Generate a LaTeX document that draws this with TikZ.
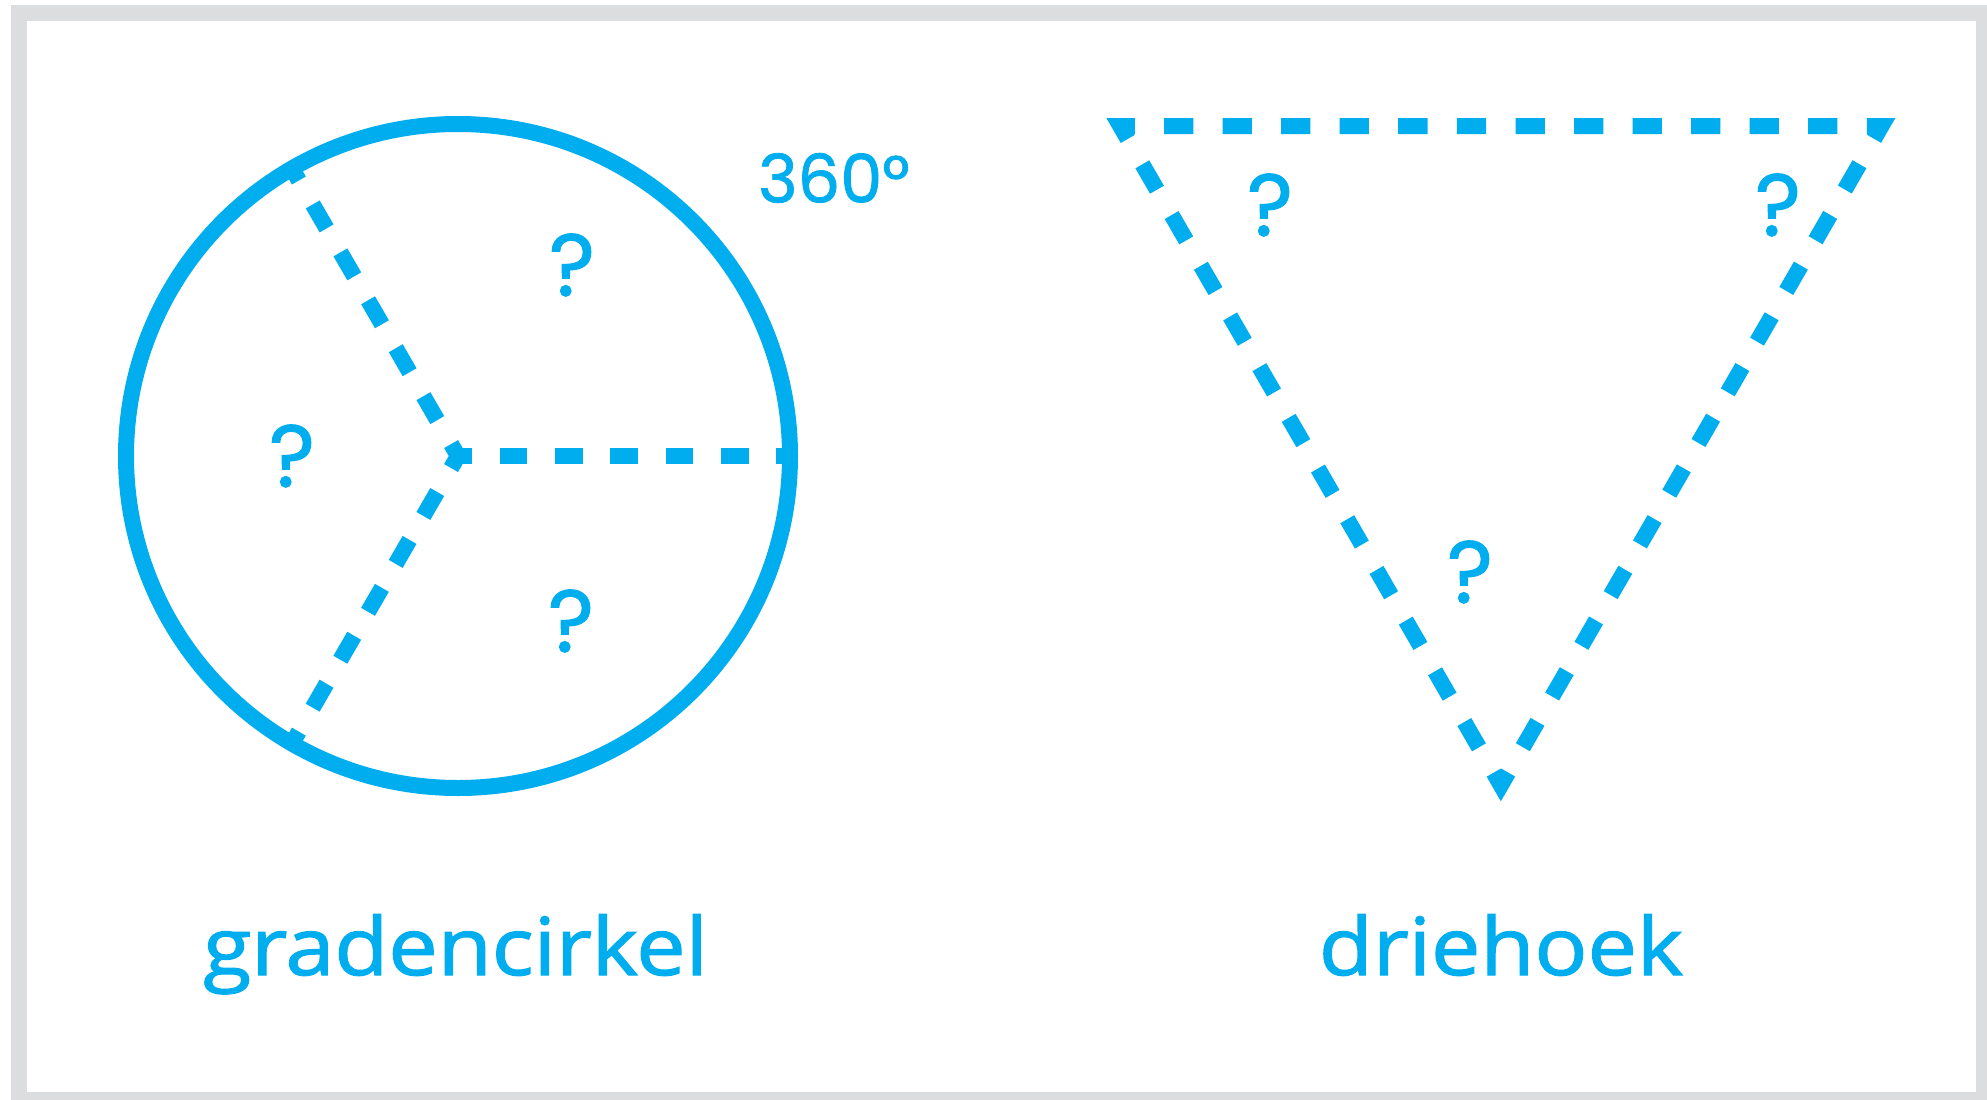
\documentclass[tikz,border=0pt]{standalone}
\usepackage{fontspec}
\setmainfont{Open Sans}[FakeBold=1.5]
\newfontfamily\qfont{Poppins}[FakeBold=1.2]
\definecolor{cy}{HTML}{00AEEF}
\definecolor{fr}{HTML}{DCDDDE}
\begin{document}
\begin{tikzpicture}[x=1pt,y=-1pt,
  ring/.style={draw=cy, line width=16pt},
  spoke/.style={draw=cy, line width=16pt, dash pattern=on 27.67pt off 27.67pt, dash phase=13.83pt, line join=miter},
  tri/.style={draw=cy, line width=16pt, dash pattern=on 29.27pt off 29.27pt, dash phase=43.9pt, line join=miter, miter limit=10},
  qm/.style={text=cy, font=\qfont\fontsize{88}{88}\selectfont, inner sep=0pt},
  deg/.style={text=cy, font=\qfont\fontsize{67}{67}\selectfont, inner sep=0pt},
  lbl/.style={text=cy, font=\fontsize{80}{80}\selectfont, inner sep=0pt, anchor=base}]
\useasboundingbox (0,0) rectangle (1987,1100);
\clip (0,0) rectangle (1987,1100);
\draw[fr, line width=16pt] (18.7,12.5) rectangle (1983.7,1099.7);
% circle
\coordinate (C) at (458,456);
\coordinate (UL) at (292,168.5);
\coordinate (LL) at (292,743.5);
\coordinate (R) at (790,456);
\draw[ring] (C) circle (332);
\draw[spoke] (UL) -- (C) -- (LL);
\draw[spoke] (C) -- (R);
\node[deg, anchor=west] (deg) at (758,178) {360°};
\node[qm] (q1) at (572,265) {?};
\node[qm] (q2) at (292,456) {?};
\node[qm] (q3) at (571,621) {?};
% triangle
\coordinate (TL) at (1120.3,126.2);
\coordinate (TR) at (1881.4,126.2);
\coordinate (B) at (1500.85,785.3);
\coordinate (M) at (1500.85,126.2);
\draw[tri] (M) -- (TR) -- (B) -- (TL) -- (M);
\node[qm] (q4) at (1270,205) {?};
\node[qm] (q5) at (1778,205) {?};
\node[qm] (q6) at (1470,572) {?};
% labels
\node[lbl] (g) at (455.5,975) {\scalebox{1.1}[1]{gradencirkel}};
\node[lbl] (d) at (1501,975) {\scalebox{1.1}[1]{driehoek}};
\end{tikzpicture}
\end{document}
